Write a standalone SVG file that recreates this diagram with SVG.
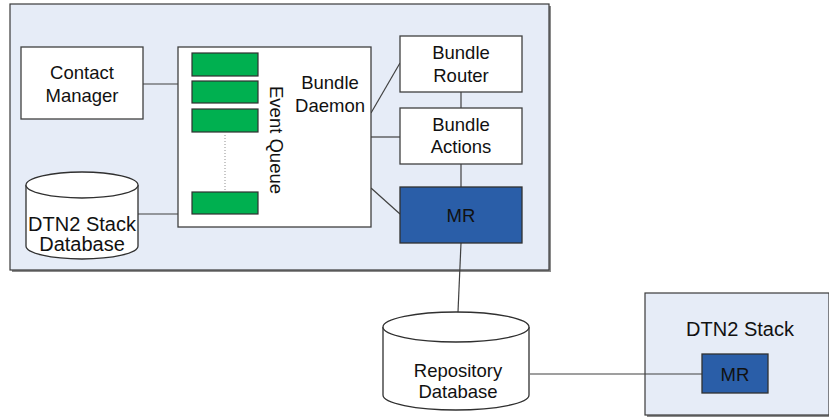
<svg xmlns="http://www.w3.org/2000/svg" width="829" height="417" viewBox="0 0 829 417">
  <style>
    text { font-family: "Liberation Sans", Arial, sans-serif; fill: #111; }
    .frame { fill: #E6ECF7; stroke: #3a3a3a; stroke-width: 1.2; }
    .shadow { fill: #8a8a8a; }
    .box { fill: #FFFFFF; stroke: #404040; stroke-width: 1.3; }
    .mr { fill: #2A5EA8; stroke: #303030; stroke-width: 1.3; }
    .queue { fill: #00B050; stroke: #303030; stroke-width: 1.2; }
    .db { fill: #FFFFFF; stroke: #303030; stroke-width: 1.3; }
    .link { fill: none; stroke: #404040; stroke-width: 1.2; }
    .t18 { font-size: 18.5px; }
    .t20 { font-size: 20px; }
  </style>

  <!-- Enclosing frames -->
  <g id="dtn2-stack-main">
    <rect class="shadow" x="12" y="6" width="539" height="266"/>
    <rect class="frame" x="10" y="4" width="539" height="266"/>
  </g>
  <g id="dtn2-stack-remote">
    <rect class="shadow" x="647" y="295" width="184" height="122"/>
    <rect class="frame" x="645" y="293" width="184" height="122"/>
    <text class="t20" x="740" y="336" text-anchor="middle">DTN2 Stack</text>
  </g>

  <!-- Connectors -->
  <g id="connectors">
    <line class="link" x1="143" y1="84" x2="178" y2="84"/>
    <line class="link" x1="138" y1="214" x2="178" y2="214"/>
    <line class="link" x1="371" y1="113" x2="400" y2="63"/>
    <line class="link" x1="371" y1="137" x2="400" y2="137"/>
    <line class="link" x1="371" y1="188" x2="400" y2="214"/>
    <line class="link" x1="461" y1="92" x2="461" y2="108"/>
    <line class="link" x1="461" y1="164" x2="461" y2="187"/>
    <line class="link" x1="461" y1="243" x2="458" y2="312"/>
    <line class="link" x1="530" y1="374" x2="702" y2="374"/>
  </g>

  <g id="contact-manager">
    <rect class="box" x="21" y="47" width="122" height="72"/>
    <text class="t18" x="82" y="79" text-anchor="middle">Contact</text>
    <text class="t18" x="82" y="102" text-anchor="middle">Manager</text>
  </g>

  <g id="bundle-daemon">
    <rect class="box" x="178" y="47" width="193" height="180"/>
    <text class="t18" x="330" y="89" text-anchor="middle">Bundle</text>
    <text class="t18" x="330" y="112" text-anchor="middle">Daemon</text>
  </g>

  <g id="event-queue">
    <rect class="queue" x="192" y="53" width="66" height="23"/>
    <rect class="queue" x="192" y="81" width="66" height="22"/>
    <rect class="queue" x="192" y="109" width="66" height="23"/>
    <line x1="225" y1="135" x2="225" y2="191" stroke="#909090" stroke-width="1" stroke-dasharray="1 2"/>
    <rect class="queue" x="192" y="192" width="66" height="22"/>
    <text class="t18" transform="translate(270 140) rotate(90)" text-anchor="middle">Event Queue</text>
  </g>

  <g id="stack-database">
    <path class="db" d="M26 185 A56 13 0 0 1 138 185 L138 246 A56 13 0 0 1 26 246 Z"/>
    <path class="db" d="M26 185 A56 13 0 0 0 138 185" fill="none"/>
    <text class="t20" x="82" y="231" text-anchor="middle">DTN2 Stack</text>
    <text class="t20" x="82" y="251" text-anchor="middle">Database</text>
  </g>

  <g id="bundle-router">
    <rect class="box" x="400" y="36" width="122" height="56"/>
    <text class="t18" x="461" y="59" text-anchor="middle">Bundle</text>
    <text class="t18" x="461" y="82" text-anchor="middle">Router</text>
  </g>

  <g id="bundle-actions">
    <rect class="box" x="400" y="108" width="122" height="56"/>
    <text class="t18" x="461" y="131" text-anchor="middle">Bundle</text>
    <text class="t18" x="461" y="153" text-anchor="middle">Actions</text>
  </g>

  <g id="mr-main">
    <rect class="mr" x="400" y="187" width="122" height="56"/>
    <text class="t18" x="461" y="222" text-anchor="middle">MR</text>
  </g>

  <g id="repository-database">
    <path class="db" d="M383 327 A73 15 0 0 1 529 327 L529 395 A73 15 0 0 1 383 395 Z"/>
    <path class="db" d="M383 327 A73 15 0 0 0 529 327" fill="none"/>
    <text class="t18" x="458" y="377" text-anchor="middle">Repository</text>
    <text class="t18" x="458" y="398" text-anchor="middle">Database</text>
  </g>

  <g id="mr-remote">
    <rect class="mr" x="702" y="354" width="66" height="39"/>
    <text class="t18" x="735" y="381" text-anchor="middle">MR</text>
  </g>
</svg>
